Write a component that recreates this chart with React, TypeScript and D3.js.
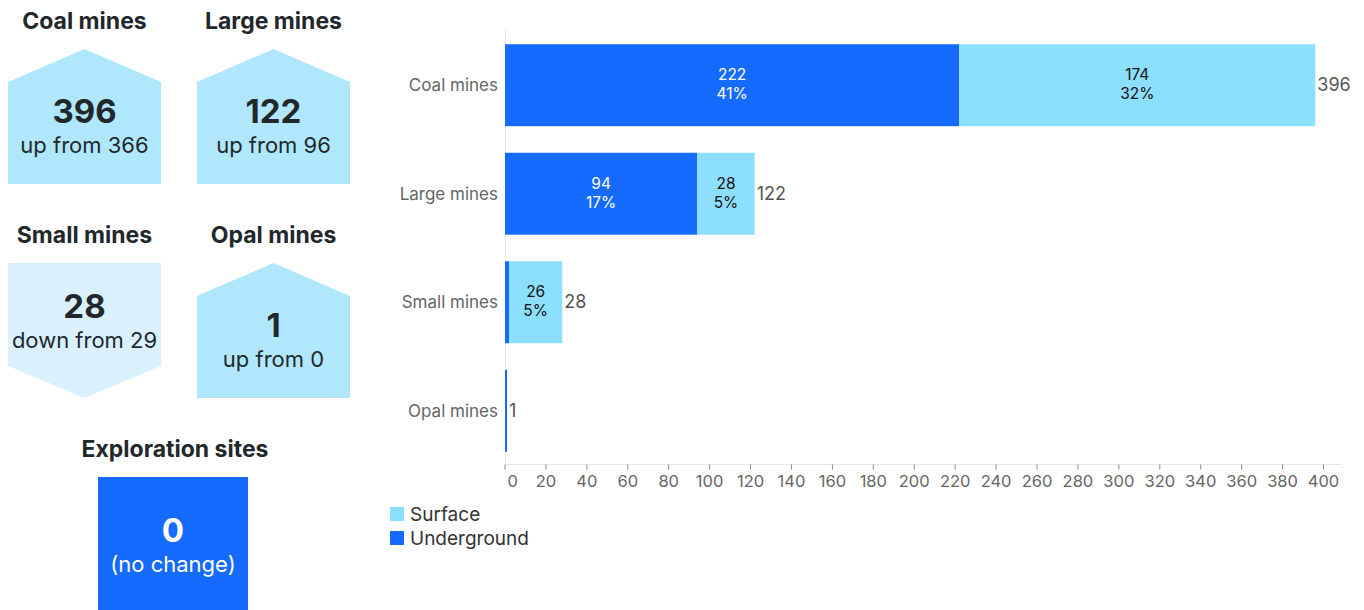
import React from "react";
import * as d3 from "d3";

const categories = ["Coal mines", "Large mines", "Small mines", "Opal mines"];
const underground = [222, 94, 2, 1];
const surface = [174, 28, 26, 0];
const xTicks = [0, 20, 40, 60, 80, 100, 120, 140, 160, 180, 200, 220, 240, 260, 280, 300, 320, 340, 360, 380, 400];

const tileNames = ["Coal mines", "Large mines", "Small mines", "Opal mines"];
const tileValues = [396, 122, 28, 1];
const tilePrevious = [366, 96, 29, 0];
const explorationValue = 0;

const DARK = "#166bff";
const LIGHT = "#8ddfff";
const TILE_UP = "#b0e7fd";
const TILE_DOWN = "#d9f1fd";
const FONT = "Inter, 'Noto Sans', sans-serif";

function Tile({ x, y, name, value, prev }: { x: number; y: number; name: string; value: number; prev: number }) {
  const w = 153;
  const h = 135;
  const up = value > prev;
  const path = up
    ? `M${x},${y + 33} L${x + w / 2},${y} L${x + w},${y + 33} L${x + w},${y + h} L${x},${y + h} Z`
    : `M${x},${y} L${x + w},${y} L${x + w},${y + 103} L${x + w / 2},${y + h} L${x},${y + 103} Z`;
  const numY = up ? y + 74 : y + 55;
  const cx = x + w / 2;
  return (
    <g>
      <text x={cx} y={y - 20} textAnchor="middle" fontSize={23} fontWeight={700} fill="#22272b">{name}</text>
      <path d={path} fill={up ? TILE_UP : TILE_DOWN} />
      <text x={cx} y={numY} textAnchor="middle" fontSize={33} fontWeight={700} fill="#22272b">{value}</text>
      <text x={cx} y={numY + 30} textAnchor="middle" fontSize={22} fill="#22272b">
        {(up ? "up from " : "down from ") + prev}
      </text>
    </g>
  );
}

export default function App() {
  const W = 1364;
  const H = 610;
  const x = d3.scaleLinear().domain([0, 400]).range([505, 1323.5]);
  const y = d3.scaleBand<string>().domain(categories).range([31, 465]).paddingInner(0.245).paddingOuter(0.122);
  const grand = d3.sum(underground) + d3.sum(surface);
  const pct = (v: number) => d3.format(".0%")(v / grand);
  const axisY = 464.5;

  return (
    <svg width={W} height={H} style={{ position: "absolute", left: 0, top: 0, fontFamily: FONT }}>
      {/* tiles */}
      <Tile x={8} y={49} name={tileNames[0]} value={tileValues[0]} prev={tilePrevious[0]} />
      <Tile x={197} y={49} name={tileNames[1]} value={tileValues[1]} prev={tilePrevious[1]} />
      <Tile x={8} y={263} name={tileNames[2]} value={tileValues[2]} prev={tilePrevious[2]} />
      <Tile x={197} y={263} name={tileNames[3]} value={tileValues[3]} prev={tilePrevious[3]} />
      <g>
        <text x={175} y={457} textAnchor="middle" fontSize={23} fontWeight={700} fill="#22272b">Exploration sites</text>
        <rect x={98} y={477} width={150} height={140} fill={DARK} />
        <text x={173} y={542} textAnchor="middle" fontSize={33} fontWeight={700} fill="#fff">{explorationValue}</text>
        <text x={173} y={572} textAnchor="middle" fontSize={22} fill="#fff">(no change)</text>
      </g>

      {/* axis lines */}
      <line x1={505.5} x2={505.5} y1={30} y2={axisY} stroke="#e6e6e6" />
      <line x1={505} x2={1342} y1={axisY} y2={axisY} stroke="#e6e6e6" />
      {xTicks.map((t, i) => (
        <g key={t}>
          <line x1={x(t)} x2={x(t)} y1={axisY} y2={axisY + 5} stroke="#888" />
          <text
            x={i === 0 ? x(t) + 2.5 : x(t)}
            y={487}
            textAnchor={i === 0 ? "start" : "middle"}
            fontSize={16.5}
            fill="#666"
          >
            {t}
          </text>
        </g>
      ))}

      {/* bars */}
      {categories.map((c, i) => {
        const by = y(c)!;
        const bh = y.bandwidth();
        const cy = by + bh / 2;
        const u = underground[i];
        const s = surface[i];
        const total = u + s;
        const showU = x(u) - x(0) > 40;
        const showS = x(u + s) - x(u) > 40;
        return (
          <g key={c}>
            <text x={498} y={cy + 6} textAnchor="end" fontSize={17} fill="#666">{c}</text>
            <rect x={x(0)} y={by} width={x(u) - x(0)} height={bh} fill={DARK} />
            {s > 0 && <rect x={x(u)} y={by} width={x(u + s) - x(u)} height={bh} fill={LIGHT} />}
            {showU && (
              <text textAnchor="middle" fontSize={15.5} fill="#fff">
                <tspan x={(x(0) + x(u)) / 2} y={cy - 5}>{u}</tspan>
                <tspan x={(x(0) + x(u)) / 2} y={cy + 14}>{pct(u)}</tspan>
              </text>
            )}
            {showS && (
              <text textAnchor="middle" fontSize={15.5} fill="#111">
                <tspan x={(x(u) + x(u + s)) / 2} y={cy - 5}>{s}</tspan>
                <tspan x={(x(u) + x(u + s)) / 2} y={cy + 14}>{pct(s)}</tspan>
              </text>
            )}
            <text x={x(total) + 2} y={cy + 6} fontSize={18} fill="#555">{total}</text>
          </g>
        );
      })}

      {/* legend */}
      <rect x={390} y={507} width={14} height={14} fill={LIGHT} />
      <text x={410} y={521} fontSize={19} fill="#333">Surface</text>
      <rect x={390} y={531} width={14} height={14} fill={DARK} />
      <text x={410} y={545} fontSize={19} fill="#333">Underground</text>
    </svg>
  );
}
